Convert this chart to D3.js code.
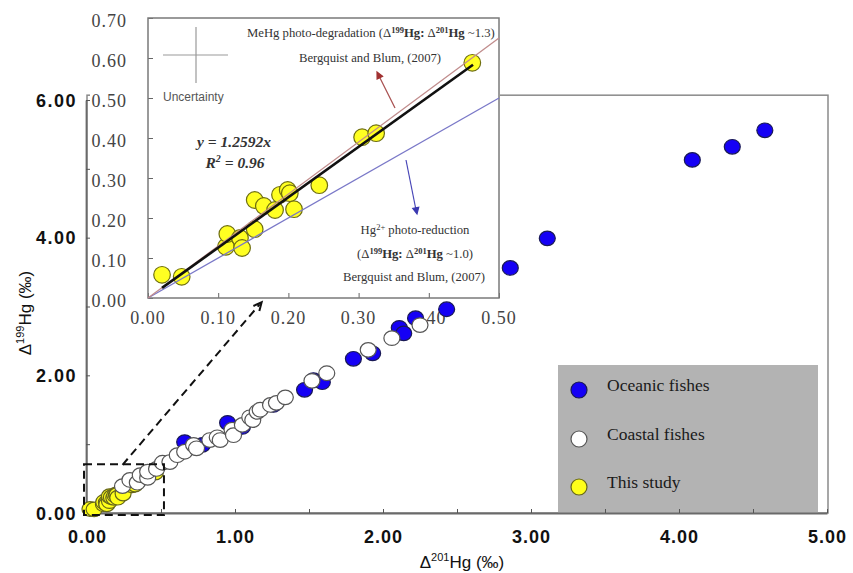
<!DOCTYPE html>
<html>
<head>
<meta charset="utf-8">
<script src="https://cdn.jsdelivr.net/npm/d3@7/dist/d3.min.js"></script>
<style>
body { margin: 0; background: #fff; }
svg { display: block; }
</style>
</head>
<body>
<div id="chart"></div>
<script>
// values: [Δ201Hg, Δ199Hg] in ‰
var oceanic = [
    [0.66, 1.03], [0.78, 0.99], [0.95, 1.31], [1.05, 1.25], [1.26, 1.57],
    [1.47, 1.79], [1.53, 1.93], [1.59, 1.90], [1.80, 2.24], [1.93, 2.32],
    [2.11, 2.69], [2.14, 2.61], [2.22, 2.83], [2.43, 2.96], [2.86, 3.56],
    [3.11, 3.99], [4.09, 5.13], [4.36, 5.32], [4.58, 5.56]
];
var coastal = [
    [0.24, 0.39], [0.29, 0.48], [0.34, 0.44], [0.36, 0.55], [0.41, 0.51],
    [0.41, 0.60], [0.47, 0.64], [0.51, 0.73], [0.56, 0.74], [0.61, 0.84],
    [0.66, 0.89], [0.72, 0.99], [0.74, 0.94], [0.83, 1.06], [0.88, 1.10],
    [0.90, 1.06], [0.98, 1.21], [0.99, 1.13], [1.05, 1.28], [1.10, 1.39],
    [1.12, 1.35], [1.15, 1.47], [1.17, 1.50], [1.24, 1.57], [1.28, 1.60],
    [1.34, 1.68], [1.52, 1.92], [1.62, 2.03], [1.90, 2.37], [2.06, 2.54],
    [2.25, 2.73]
];
var thisStudy = [
    [0.020, 0.058], [0.048, 0.053], [0.111, 0.128], [0.113, 0.160], [0.131, 0.150],
    [0.134, 0.125], [0.152, 0.172], [0.152, 0.245], [0.165, 0.230], [0.181, 0.220],
    [0.188, 0.258], [0.199, 0.270], [0.202, 0.262], [0.208, 0.222], [0.244, 0.282],
    [0.305, 0.402], [0.325, 0.412], [0.462, 0.588]
];

var mainXTicks = [0, 0.5, 1, 1.5, 2, 2.5, 3, 3.5, 4, 4.5, 5];
var mainYTicks = [0, 1, 2, 3, 4, 5, 6];
var insetXTicks = [0, 0.1, 0.2, 0.3, 0.4, 0.5];
var insetYTicks = [0, 0.1, 0.2, 0.3, 0.4, 0.5, 0.6, 0.7];

var fitSlope = 1.2592;      // black regression line
var fitRange = [0.02, 0.463];
var mehgSlope = 1.3;        // MeHg photo-degradation
var hgSlope = 1.0;          // Hg2+ photo-reduction

var legendNames = ["Oceanic fishes", "Coastal fishes", "This study"];
var legendFill = ["#1500f5", "#ffffff", "#ffff1a"];
var legendStroke = ["#1a1a55", "#555555", "#66661a"];

var W = 853, H = 573;
var svg = d3.select("#chart").append("svg").attr("width", W).attr("height", H);

var x = d3.scaleLinear().domain([0, 5]).range([87, 827]);
var y = d3.scaleLinear().domain([0, 6]).range([513, 100]);

var ix = d3.scaleLinear().domain([0, 0.5]).range([148, 499]);
var iy = d3.scaleLinear().domain([0, 0.7]).range([298, 18]);

var fmt = d3.format(".2f");
var sans = "'Liberation Sans', Arial, sans-serif";
var serif = "'Liberation Serif', 'Times New Roman', serif";

// frame of main plot
svg.append("rect")
    .attr("x", x(0)).attr("y", y(6.07))
    .attr("width", x(5) + 1 - x(0)).attr("height", y(0) - y(6.07))
    .attr("fill", "none").attr("stroke", "#8a8a8a").attr("stroke-width", 1.5);

// legend box (under the axis)
svg.append("rect")
    .attr("x", 558).attr("y", 365).attr("width", 260).attr("height", y(0) - 365)
    .attr("fill", "#b3b3b3");

// axes
var xAxis = svg.append("g")
    .attr("transform", "translate(0," + y(0) + ")")
    .call(d3.axisBottom(x).tickValues(mainXTicks).tickSizeInner(-4).tickSizeOuter(0)
        .tickFormat(function (d) { return d % 1 == 0 ? fmt(d) : ""; }));
xAxis.select(".domain").attr("stroke", "#6a6a6a").attr("stroke-width", 1.8);
xAxis.selectAll(".tick line").attr("stroke", "#555");
xAxis.selectAll("text")
    .attr("y", 24).attr("dy", "0.35em")
    .style("font-family", sans).style("font-weight", "bold").style("font-size", "18px")
    .style("letter-spacing", "1px").attr("fill", "#111");

var yAxis = svg.append("g")
    .attr("transform", "translate(" + (x(0) - 1) + ",0)")
    .call(d3.axisLeft(y).tickValues(mainYTicks).tickSizeInner(-4).tickSizeOuter(0)
        .tickFormat(function (d) { return d % 2 == 0 ? fmt(d) : ""; }));
yAxis.select(".domain").attr("stroke", "#6a6a6a").attr("stroke-width", 1.8);
yAxis.selectAll(".tick line").attr("stroke", "#555");
yAxis.selectAll("text")
    .attr("x", -9).attr("dy", "0.35em")
    .style("font-family", sans).style("font-weight", "bold").style("font-size", "18px")
    .style("letter-spacing", "1.5px").attr("fill", "#111");

// axis titles
var xt = svg.append("text").attr("x", 462).attr("y", 568).attr("text-anchor", "middle")
    .style("font-family", sans).style("font-size", "17px").attr("fill", "#111");
xt.append("tspan").text("Δ");
xt.append("tspan").attr("dy", -7).style("font-size", "11px").text("201");
xt.append("tspan").attr("dy", 7).text("Hg (‰)");

var yt = svg.append("text").attr("transform", "translate(31,313) rotate(-90)").attr("text-anchor", "middle")
    .style("font-family", sans).style("font-size", "17px").attr("fill", "#111");
yt.append("tspan").text("Δ");
yt.append("tspan").attr("dy", -7).style("font-size", "11px").text("199");
yt.append("tspan").attr("dy", 7).text("Hg (‰)");

// ---------- inset ----------
var inset = svg.append("g");
inset.append("rect").attr("x", 90).attr("y", 0).attr("width", ix(0.5) + 1 - 90).attr("height", iy(0) + 1)
    .attr("fill", "#fff");

inset.append("g")
    .attr("transform", "translate(0," + iy(0) + ")")
    .call(d3.axisBottom(ix).tickValues(insetXTicks).tickSizeInner(-5).tickSizeOuter(0).tickFormat(""))
    .call(function (g) { g.select(".domain").remove(); g.selectAll("line").attr("stroke", "#666"); });
inset.append("g")
    .attr("transform", "translate(" + ix(0) + ",0)")
    .call(d3.axisLeft(iy).tickValues(insetYTicks).tickSizeInner(-5).tickSizeOuter(0).tickFormat(""))
    .call(function (g) { g.select(".domain").remove(); g.selectAll("line").attr("stroke", "#666"); });

inset.selectAll(".iyl").data(insetYTicks).enter().append("text")
    .attr("x", 127).attr("y", function (d) { return iy(d) + 3; }).attr("dy", "0.35em")
    .attr("text-anchor", "end")
    .style("font-family", serif).style("font-size", "18px").style("letter-spacing", "1px")
    .attr("fill", "#444").text(fmt);

inset.append("rect")
    .attr("x", ix(0)).attr("y", iy(0.7)).attr("width", ix(0.5) - ix(0)).attr("height", iy(0) - iy(0.7))
    .attr("fill", "none").attr("stroke", "#7a7a7a").attr("stroke-width", 1.5);

// inset points
inset.selectAll(".ip").data(thisStudy).enter().append("circle")
    .attr("cx", function (d) { return ix(d[0]); })
    .attr("cy", function (d) { return iy(d[1]); })
    .attr("r", 8.3)
    .attr("fill", "#ffff22").attr("stroke", "#6e6e10").attr("stroke-width", 1.2);

// reference lines
inset.append("line")
    .attr("x1", ix(0)).attr("y1", iy(0)).attr("x2", ix(0.5)).attr("y2", iy(0.5 * hgSlope))
    .attr("stroke", "#7a78c8").attr("stroke-width", 1.3);
inset.append("line")
    .attr("x1", ix(0)).attr("y1", iy(0)).attr("x2", ix(0.5)).attr("y2", iy(0.5 * mehgSlope))
    .attr("stroke", "#c08c8c").attr("stroke-width", 1.3);
inset.append("line")
    .attr("x1", ix(fitRange[0])).attr("y1", iy(fitRange[0] * fitSlope))
    .attr("x2", ix(fitRange[1])).attr("y2", iy(fitRange[1] * fitSlope))
    .attr("stroke", "#111").attr("stroke-width", 2.6);

function arrowHead(g, x0, y0, x1, y1, size, color, filled, w) {
    var a = Math.atan2(y1 - y0, x1 - x0);
    var p1 = [x1 - size * Math.cos(a - 0.45), y1 - size * Math.sin(a - 0.45)];
    var p2 = [x1 - size * Math.cos(a + 0.45), y1 - size * Math.sin(a + 0.45)];
    g.append("path")
        .attr("d", "M" + p1 + "L" + [x1, y1] + "L" + p2 + (filled ? "Z" : ""))
        .attr("fill", filled ? color : "none").attr("stroke", color).attr("stroke-width", w || 1.2);
}

// red arrow (MeHg) and blue arrow (Hg2+)
inset.append("line").attr("x1", 395).attr("y1", 108).attr("x2", 378).attr("y2", 74)
    .attr("stroke", "#a85050").attr("stroke-width", 1.2);
arrowHead(inset, 395, 108, 377, 72, 7, "#a03030", true);
inset.append("line").attr("x1", 406).attr("y1", 160).attr("x2", 416).attr("y2", 210)
    .attr("stroke", "#4a48b8").attr("stroke-width", 1.2);
arrowHead(inset, 406, 160, 417, 214, 7, "#3a38b0", true);

// uncertainty cross
inset.append("line").attr("x1", 163).attr("y1", 55).attr("x2", 228).attr("y2", 55)
    .attr("stroke", "#999").attr("stroke-width", 1.2);
inset.append("line").attr("x1", 196).attr("y1", 27).attr("x2", 196).attr("y2", 83)
    .attr("stroke", "#999").attr("stroke-width", 1.2);
inset.append("text").attr("x", 163).attr("y", 97).attr("dy", "0.35em")
    .style("font-family", sans).style("font-size", "12px").attr("fill", "#555").text("Uncertainty");

// regression text
inset.append("text").attr("x", 234).attr("y", 142).attr("dy", "0.35em").attr("text-anchor", "middle")
    .style("font-family", serif).style("font-style", "italic").style("font-weight", "bold")
    .style("font-size", "15.5px").attr("fill", "#333").text("y = 1.2592x");
var r2 = inset.append("text").attr("x", 235).attr("y", 163).attr("dy", "0.35em").attr("text-anchor", "middle")
    .style("font-family", serif).style("font-style", "italic").style("font-weight", "bold")
    .style("font-size", "15.5px").attr("fill", "#333");
r2.append("tspan").text("R");
r2.append("tspan").attr("dy", -6).style("font-size", "10px").text("2");
r2.append("tspan").attr("dy", 6).text(" = 0.96");

// rich annotation text with superscripts
function richText(g, tx, ty, anchor, parts) {
    var t = g.append("text").attr("x", tx).attr("y", ty).attr("text-anchor", anchor)
        .style("font-family", serif).style("font-size", "12.7px").attr("fill", "#333");
    var shift = 0;
    parts.forEach(function (p) {
        var s = t.append("tspan").text(p.t);
        var want = p.sup ? -4 : 0;
        if (want != shift) { s.attr("dy", want - shift); shift = want; }
        if (p.sup) s.style("font-size", "8.5px");
        if (p.b) s.style("font-weight", "bold");
    });
    return t;
}
richText(inset, 247, 37, "start", [
    { t: "MeHg photo-degradation (Δ" }, { t: "199", sup: 1, b: 1 }, { t: "Hg:", b: 1 },
    { t: " Δ" }, { t: "201", sup: 1, b: 1 }, { t: "Hg", b: 1 }, { t: " ~1.3)" }
]);
richText(inset, 370, 62, "middle", [{ t: "Bergquist and Blum, (2007)" }]);
richText(inset, 415, 234, "middle", [{ t: "Hg" }, { t: "2+", sup: 1 }, { t: " photo-reduction" }]);
richText(inset, 415, 258, "middle", [
    { t: "(Δ" }, { t: "199", sup: 1, b: 1 }, { t: "Hg:", b: 1 },
    { t: " Δ" }, { t: "201", sup: 1, b: 1 }, { t: "Hg", b: 1 }, { t: " ~1.0)" }
]);
richText(inset, 414, 281, "middle", [{ t: "Bergquist and Blum, (2007)" }]);

// inset x labels (below the inset, points of the main plot sit over them)
svg.selectAll(".ixl").data(insetXTicks).enter().append("text")
    .attr("x", function (d) { return ix(d); }).attr("y", 318).attr("dy", "0.35em")
    .attr("text-anchor", "middle")
    .style("font-family", serif).style("font-size", "18px").style("letter-spacing", "1px")
    .attr("fill", "#444").text(fmt);

// ---------- main points ----------
function drawPts(data, fill, stroke) {
    svg.append("g").selectAll("ellipse").data(data).enter().append("ellipse")
        .attr("cx", function (d) { return x(d[0]); })
        .attr("cy", function (d) { return y(d[1]); })
        .attr("rx", 8).attr("ry", 7.3)
        .attr("fill", fill).attr("stroke", stroke).attr("stroke-width", 1.2);
}
drawPts(thisStudy, legendFill[2], legendStroke[2]);
drawPts(oceanic, legendFill[0], legendStroke[0]);
drawPts(coastal, legendFill[1], legendStroke[1]);

// dashed zoom box and arrow
svg.append("rect")
    .attr("x", x(0) - 3).attr("y", y(0.71)).attr("width", x(0.52) - x(0) + 3).attr("height", y(0) + 2 - y(0.71))
    .attr("fill", "none").attr("stroke", "#111").attr("stroke-width", 2).attr("stroke-dasharray", "8,5");
var a0 = [x(0.24), y(0.70)], a1 = [x(1.18), y(3.06)];
svg.append("line")
    .attr("x1", a0[0]).attr("y1", a0[1]).attr("x2", a1[0] - 2).attr("y2", a1[1] + 2)
    .attr("stroke", "#111").attr("stroke-width", 2).attr("stroke-dasharray", "8,5");
arrowHead(svg, a0[0], a0[1], a1[0], a1[1], 9, "#111", false, 2);

// legend
var legY = [390, 439, 487];
legendNames.forEach(function (n, i) {
    svg.append("circle").attr("cx", 579).attr("cy", legY[i]).attr("r", 8)
        .attr("fill", legendFill[i]).attr("stroke", legendStroke[i]).attr("stroke-width", 1.2);
    svg.append("text").attr("x", 607).attr("y", legY[i] - 5).attr("dy", "0.35em")
        .style("font-family", serif).style("font-size", "17.5px").attr("fill", "#1a1a1a").text(n);
});
</script>
</body>
</html>
